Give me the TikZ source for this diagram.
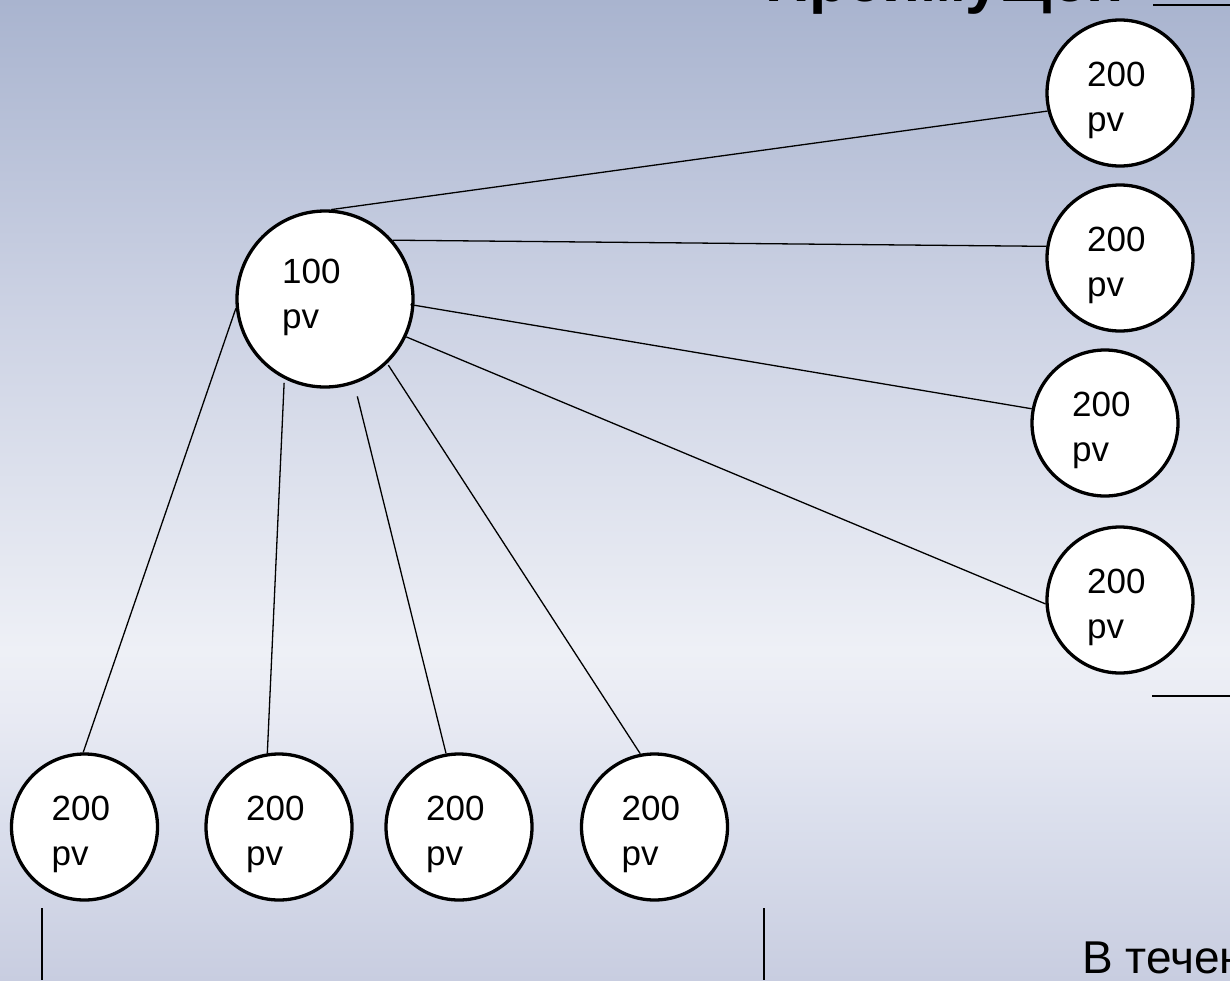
\documentclass[tikz,border=0pt]{standalone}
\usepackage{fontspec}
\setmainfont{Liberation Sans}
\usetikzlibrary{calc}
\definecolor{cT}{HTML}{A9B4CF}
\definecolor{cA}{HTML}{CBD1E3}
\definecolor{cB}{HTML}{EEF0F6}
\definecolor{cC}{HTML}{E8EAF3}
\definecolor{cD}{HTML}{DDE1EE}
\definecolor{cE}{HTML}{C8CDE0}
\pgfdeclareverticalshading{bgshade}{100bp}{color(0bp)=(cE); color(25bp)=(cE); color(34.2bp)=(cD); color(38.3bp)=(cC); color(41.8bp)=(cB); color(59.7bp)=(cA); color(75bp)=(cT); color(100bp)=(cT)}
\tikzset{
  pvc/.style={circle, draw=black, line width=3.3pt, fill=white, minimum size=146pt, inner sep=0pt},
  bigc/.style={pvc, minimum size=176pt},
  pvt/.style={anchor=base west, inner sep=0pt, font=\fontsize{35}{42}\selectfont},
  conn/.style={line width=1.3pt, black},
  rule/.style={line width=1.6pt, black}
}
\newcommand{\pvnode}[4]{%
  \node[pvc] (#1) at (#2,#3) {};
  \node[pvt] (#1a) at ($(#1.center)+(-33,-7)$) {#4};
  \node[pvt] (#1b) at ($(#1.center)+(-33,38)$) {pv};
}
\begin{document}
\begin{tikzpicture}[x=1pt,y=-1pt]
\useasboundingbox (0,0) rectangle (1230,980);
\clip (0,0) rectangle (1230,980);
\shade[shading=bgshade] (0,0) rectangle (1230,980);

% title (cut off by the top edge)
\node[anchor=base west, inner sep=0pt, font=\bfseries\fontsize{62}{62}\selectfont] (title) at (765,1) {Преимущен};
\draw[line width=2pt] (1153,5) -- (1230,5);

% centre node
\node[bigc] (C) at (325,299) {};
\node[pvt] (Ca) at ($(C.center)+(-43,-16)$) {100};
\node[pvt] (Cb) at ($(C.center)+(-43,29)$) {pv};

% right column
\pvnode{t1}{1120}{93}{200}
\pvnode{t2}{1120}{258}{200}
\pvnode{t3}{1105}{423}{200}
\pvnode{t4}{1120}{600}{200}

% bottom row
\pvnode{b1}{84.5}{827}{200}
\pvnode{b2}{279}{827}{200}
\pvnode{b3}{459}{827}{200}
\pvnode{b4}{654.5}{827}{200}

% connectors
\draw[conn] (C.86.6) -- (t1.-166.9);
\draw[conn] (C.41.7) -- (t2.171.4);
\draw[conn, shorten <=-4pt] (C.-4.3) -- (t3.169.8);
\draw[conn] (C.-25.4) -- (t4.183.8);
\draw[conn, shorten <=2pt] (C.-46.3) -- (b4.101.2);
\draw[conn, shorten <=13pt] (C.-71.9) -- (b3.100.2);
\draw[conn, shorten <=4pt] (C.-117.4) -- (b2.99.6);
\draw[conn] (C.-174.3) -- (b1.91.2);

% other rules
\draw[line width=2pt] (1152,696) -- (1230,696);
\draw[rule] (42,908) -- (42,980);
\draw[rule] (764,908) -- (764,980);

% bottom-right text (cut off by the right edge)
\node[anchor=base west, inner sep=0pt, font=\fontsize{46}{46}\selectfont] (note) at (1082,973) {В течение};
\end{tikzpicture}
\end{document}
